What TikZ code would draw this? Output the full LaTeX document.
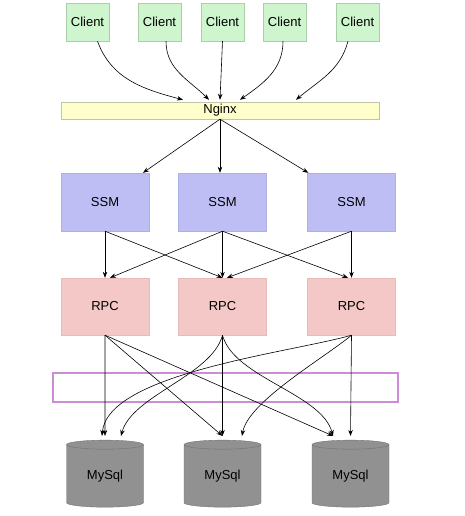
\documentclass[tikz,border=0pt]{standalone}
\usepackage{fontspec}
\setmainfont{Liberation Sans}
\usetikzlibrary{arrows.meta,shapes.geometric}

\definecolor{clientfill}{RGB}{206,245,206}
\definecolor{clientline}{RGB}{170,205,170}
\definecolor{nginxfill}{RGB}{255,255,204}
\definecolor{nginxline}{RGB}{195,195,165}
\definecolor{ssmfill}{RGB}{190,190,245}
\definecolor{ssmline}{RGB}{175,175,232}
\definecolor{rpcfill}{RGB}{245,200,200}
\definecolor{rpcline}{RGB}{232,186,186}
\definecolor{dbfill}{RGB}{145,145,145}
\definecolor{dbline}{RGB}{115,115,115}
\definecolor{layerline}{RGB}{204,140,214}

\begin{document}
\begin{tikzpicture}[x=1pt, y=1pt, font=\fontsize{13}{15}\selectfont,
  client/.style={draw=clientline, fill=clientfill, minimum width=43pt, minimum height=38pt, inner sep=0pt},
  proxy/.style={draw=nginxline, fill=nginxfill, minimum width=318pt, minimum height=17pt, inner sep=0pt},
  ssmbox/.style={draw=ssmline, fill=ssmfill, minimum width=88pt, minimum height=58pt, inner sep=0pt},
  rpcbox/.style={draw=rpcline, fill=rpcfill, minimum width=88pt, minimum height=57pt, inner sep=0pt},
  database/.style={cylinder, shape border rotate=90, aspect=0.25, draw=dbline, fill=dbfill,
    minimum width=77pt, minimum height=67pt, inner sep=0pt},
  link/.style={-{Stealth[length=6pt,width=4.5pt]}, line width=0.6pt},
]
\useasboundingbox (0,0) rectangle (464,-516);

% clients
\node[client] (client1) at (87.5,-22) {Client};
\node[client] (client2) at (159.5,-22) {Client};
\node[client] (client3) at (222.5,-22) {Client};
\node[client] (client4) at (284.5,-22) {Client};
\node[client] (client5) at (357.5,-22) {Client};

\node[proxy] (nginx) at (220,-110.5) {Nginx};

\node[ssmbox] (ssm1) at (105,-202) {SSM};
\node[ssmbox] (ssm2) at (222.5,-202) {SSM};
\node[ssmbox] (ssm3) at (351.5,-202) {SSM};

\node[rpcbox] (rpc1) at (105,-306.5) {RPC};
\node[rpcbox] (rpc2) at (222.5,-306.5) {RPC};
\node[rpcbox] (rpc3) at (351.5,-306.5) {RPC};

\draw[layerline, line width=1.6pt] (53,-373) rectangle (398,-402);

\node[database] (db1) at (105,-476) {MySql};
\node[database] (db2) at (222.5,-476) {MySql};
\node[database] (db3) at (350.5,-476) {MySql};

% client -> nginx
\draw[link] ([xshift=10pt]client1.south) to[out=-70,in=165] ([xshift=-37pt,yshift=2pt]nginx.north);
\draw[link] ([xshift=6.5pt]client2.south) to[out=-90,in=135] ([xshift=-11pt,yshift=2pt]nginx.north);
\draw[link] (client3.south) -- ([yshift=2pt]nginx.north);
\draw[link] ([xshift=-1.5pt]client4.south) to[out=-90,in=35] ([xshift=20pt,yshift=2pt]nginx.north);
\draw[link] ([xshift=-9.5pt]client5.south) to[out=-105,in=40] ([xshift=76pt,yshift=2pt]nginx.north);

% nginx -> ssm
\draw[link] (nginx.south) -- ([xshift=38pt]ssm1.north);
\draw[link] (nginx.south) -- (nginx.south |- ssm2.north);
\draw[link] (nginx.south) -- ([xshift=1pt]ssm3.north west);

% ssm -> rpc
\draw[link] (ssm1.south) -- (rpc1.north);
\draw[link] (ssm1.south) -- (rpc2.north);
\draw[link] (ssm2.south) -- ([xshift=5pt]rpc1.north);
\draw[link] (ssm2.south) -- (rpc2.north);
\draw[link] (ssm2.south) -- ([xshift=-3.5pt]rpc3.north);
\draw[link] (ssm3.south) -- ([xshift=4.5pt]rpc2.north);
\draw[link] (ssm3.south) -- (rpc3.north);

% rpc -> mysql
\draw[link] (rpc1.south) -- ([yshift=4pt]db1.north);
\draw[link] (rpc1.south) -- ([yshift=4pt]db2.north);
\draw[link] (rpc1.south) -- ([xshift=-17.5pt,yshift=4pt]db3.north);
\draw[link] (rpc2.south) to[out=-105,in=75,looseness=0.75] ([xshift=16pt,yshift=4pt]db1.north);
\draw[link] (rpc2.south) -- ([yshift=4pt]db2.north);
\draw[link] (rpc2.south) to[out=-75,in=105,looseness=0.75] ([xshift=-17.5pt,yshift=4pt]db3.north);
\draw[link] (rpc3.south) to[out=196,in=85,looseness=0.6] ([xshift=-3pt,yshift=4pt]db1.north);
\draw[link] (rpc3.south) to[out=220,in=80,looseness=0.6] ([xshift=19.5pt,yshift=4pt]db2.north);
\draw[link] (rpc3.south) -- ([yshift=4pt]db3.north);
\end{tikzpicture}
\end{document}
